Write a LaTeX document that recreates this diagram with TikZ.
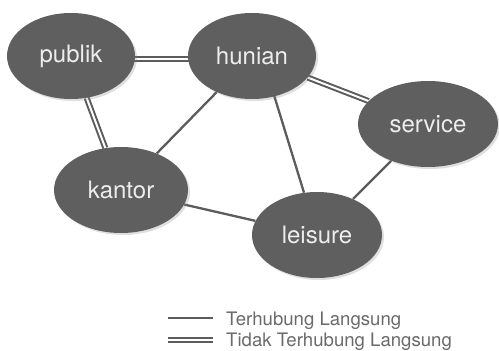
\documentclass[tikz,border=0pt]{standalone}
\usepackage{fontspec}
\setmainfont{TeX Gyre Heros}
\usetikzlibrary{shapes.geometric,shadows}
\pgfdeclarelayer{background}
\pgfsetlayers{background,main}
\definecolor{blob}{HTML}{5F5F5F}
\definecolor{edge}{HTML}{5C5C5C}
\definecolor{legc}{HTML}{6A6A6A}
\definecolor{txt}{HTML}{EDEDED}
\begin{document}
\begin{tikzpicture}[x=1pt,y=-1pt,
  blobnode/.style={ellipse,fill=blob,text=txt,inner sep=0pt,
    font=\fontsize{24}{26}\selectfont,
    drop shadow={opacity=0.25,shadow xshift=2pt,shadow yshift=-2pt}},
  single/.style={draw=edge,line width=2.3pt},
  twin/.style={draw=edge,line width=2pt,double=white,double distance=2pt},
  legtext/.style={anchor=base west,text=legc,font=\fontsize{18.6}{20}\selectfont,inner sep=0pt}]
\useasboundingbox (0,0) rectangle (499,351);
\node[blobnode,minimum width=128pt,minimum height=86pt] (publik) at (71,56) {publik};
\node[blobnode,minimum width=128pt,minimum height=86pt] (hunian) at (252,56) {hunian};
\node[blobnode,minimum width=140pt,minimum height=86pt] (service) at (428,124) {service};
\node[blobnode,minimum width=134pt,minimum height=86pt] (kantor) at (121,190) {kantor};
\node[blobnode,minimum width=130pt,minimum height=86pt] (leisure) at (317,235) {leisure};
\begin{pgfonlayer}{background}
  \draw[twin] ([yshift=-3pt]publik.center) -- ([yshift=-3pt]hunian.center);
  \draw[twin] (hunian) -- (service);
  \draw[twin] (publik) -- (kantor);
  \draw[single] (hunian) -- (kantor);
  \draw[single] ([xshift=10pt]hunian.center) -- (leisure);
  \draw[single] (kantor) -- (leisure);
  \draw[single] (service) -- (leisure);
\end{pgfonlayer}
\coordinate (s1) at (168,318);
\coordinate (s2) at (213,318);
\coordinate (d1) at (168,340);
\coordinate (d2) at (213,340);
\draw[single] (s1) -- (s2);
\draw[twin] (d1) -- (d2);
\node[legtext] (l1) at (226,325) {Terhubung Langsung};
\node[legtext] (l2) at (226,346) {Tidak Terhubung Langsung};
\end{tikzpicture}
\end{document}
